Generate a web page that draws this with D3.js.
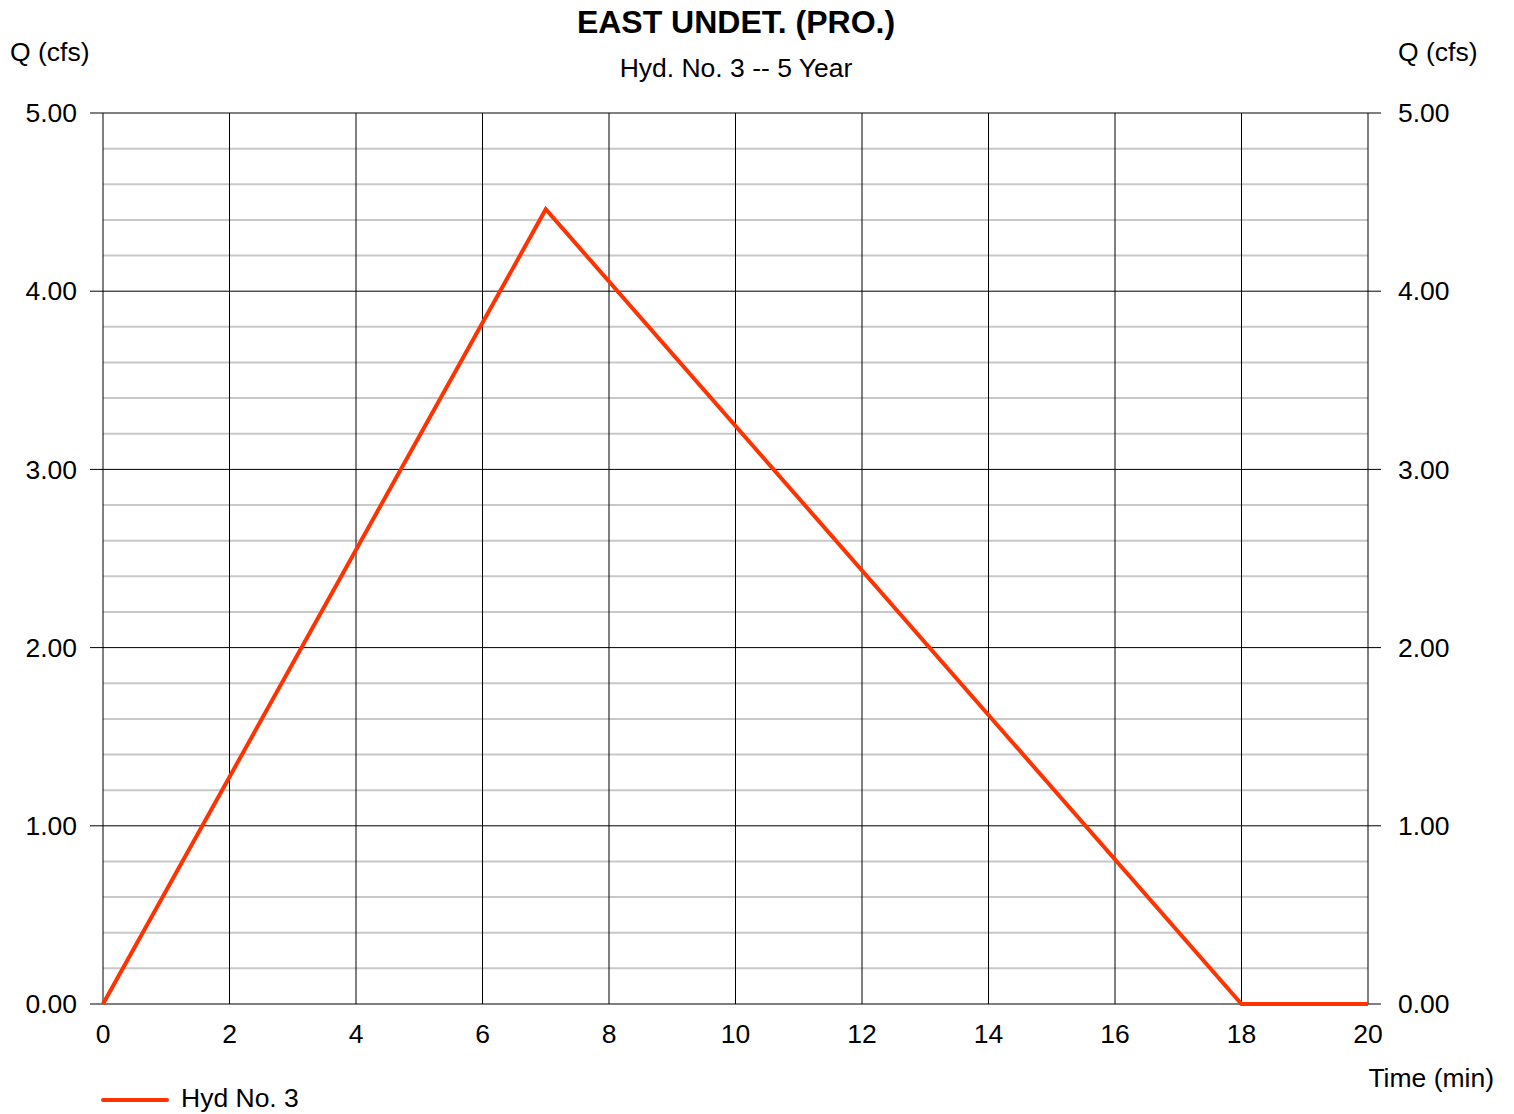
<!DOCTYPE html>
<html>
<head>
<meta charset="utf-8">
<script src="https://cdn.jsdelivr.net/npm/d3@7"></script>
<style>
  html, body { margin: 0; padding: 0; background: #fff; }
  svg { display: block; font-family: "Liberation Sans", Arial, sans-serif; }
</style>
</head>
<body>
<svg id="chart" width="1514" height="1114"></svg>
<script>
const title = "EAST UNDET. (PRO.)";
const subtitle = "Hyd. No. 3 -- 5 Year";
const seriesName = "Hyd No. 3";
const timeMin = [0, 7, 18, 20];
const flowCfs = [0, 4.46, 0, 0];
const xTicks = [0, 2, 4, 6, 8, 10, 12, 14, 16, 18, 20];
const yMajor = [0, 1, 2, 3, 4, 5];
const yMinor = [0.2,0.4,0.6,0.8,1.2,1.4,1.6,1.8,2.2,2.4,2.6,2.8,3.2,3.4,3.6,3.8,4.2,4.4,4.6,4.8];

const svg = d3.select("#chart");
const L = 103, R = 1368, T = 113, B = 1004;
const FS = 26.5;
const x = d3.scaleLinear().domain([0, 20]).range([L, R]);
const y = d3.scaleLinear().domain([0, 5]).range([B, T]);

// minor grid
svg.append("g").selectAll("line").data(yMinor).join("line")
  .attr("x1", L).attr("x2", R)
  .attr("y1", d => y(d)).attr("y2", d => y(d))
  .attr("stroke", "#c8c8c8").attr("stroke-width", 2);

// vertical grid
svg.append("g").selectAll("line").data(xTicks).join("line")
  .attr("x1", d => x(d)).attr("x2", d => x(d))
  .attr("y1", T).attr("y2", B)
  .attr("stroke", "#000").attr("stroke-width", 1);

// major horizontal lines (with ticks outside)
svg.append("g").selectAll("line").data(yMajor).join("line")
  .attr("x1", L - 13).attr("x2", R + 13)
  .attr("y1", d => y(d)).attr("y2", d => y(d))
  .attr("stroke", "#000").attr("stroke-width", 1);

const fmt = d3.format(".2f");
svg.append("g").selectAll("text").data(yMajor).join("text")
  .attr("x", 77).attr("y", d => y(d)).attr("dy", "0.35em")
  .attr("text-anchor", "end").attr("font-size", FS).attr("fill", "#000")
  .text(d => fmt(d));
svg.append("g").selectAll("text").data(yMajor).join("text")
  .attr("x", 1398).attr("y", d => y(d)).attr("dy", "0.35em")
  .attr("text-anchor", "start").attr("font-size", FS).attr("fill", "#000")
  .text(d => fmt(d));
svg.append("g").selectAll("text").data(xTicks).join("text")
  .attr("x", d => x(d)).attr("y", 1043)
  .attr("text-anchor", "middle").attr("font-size", FS).attr("fill", "#000")
  .text(d => d);

// line
const line = d3.line().x((d, i) => x(timeMin[i])).y((d, i) => y(flowCfs[i]));
svg.append("path").datum(flowCfs)
  .attr("d", line)
  .attr("fill", "none").attr("stroke", "#ff3300").attr("stroke-width", 4)
  .attr("stroke-linejoin", "miter");

// titles
svg.append("text").attr("x", 736).attr("y", 33).attr("text-anchor", "middle")
  .attr("font-size", 32).attr("font-weight", "bold").text(title);
svg.append("text").attr("x", 736).attr("y", 77).attr("text-anchor", "middle")
  .attr("font-size", FS).text(subtitle);
svg.append("text").attr("x", 10).attr("y", 61).attr("font-size", FS).text("Q (cfs)");
svg.append("text").attr("x", 1398).attr("y", 61).attr("text-anchor", "start").attr("font-size", FS).text("Q (cfs)");
svg.append("text").attr("x", 1494).attr("y", 1087).attr("text-anchor", "end").attr("font-size", FS).text("Time (min)");

// legend
svg.append("line").attr("x1", 103).attr("x2", 167).attr("y1", 1100).attr("y2", 1100)
  .attr("stroke", "#ff3300").attr("stroke-width", 4).attr("stroke-linecap", "round");
svg.append("text").attr("x", 181).attr("y", 1107).attr("font-size", FS).text(seriesName);
</script>
</body>
</html>
